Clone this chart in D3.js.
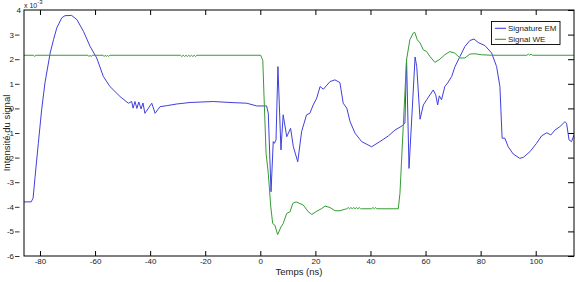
<!DOCTYPE html>
<html><head><meta charset="utf-8">
<script src="https://cdn.jsdelivr.net/npm/d3@7"></script>
<style>body{margin:0;background:#fff}svg{display:block}text{font-family:"Liberation Sans",Arial,Helvetica,sans-serif}</style>
</head><body><svg id="c" width="579" height="282"></svg>
<script>
// Data (values in units of 1e-3)
const xTicks = [-80,-60,-40,-20,0,20,40,60,80,100];
const yTicks = [-6,-5,-4,-3,-2,-1,0,1,2,3,4];
const seriesNames = ["Signature EM","Signal WE"];
const emTime = [-85.8,-83.2,-82.5,-81.8,-80.6,-79.4,-78.2,-76.3,-75.1,-73.9,-72.1,-70.9,-68.5,-66.6,-64.2,-61.8,-59.4,-57.0,-54.6,-50.9,-47.9,
 -46.7,-46.2,-45.5,-44.8,-44.1,-43.3,-42.6,-41.9,-39.4,-38.2,-36.4,-34.0,-30.3,-25.5,-17.1,-11.0,-4.9,-1.3,2.3,2.9,3.9,4.7,5.1,5.7,6.4,7.5,8.3,9.6,11.0,12.0,13.6,15.0,16.8,18.0,19.2,20.5,21.7,22.9,25.3,27.1,28.9,30.1,31.4,32.6,34.4,36.8,40.4,43.4,46.5,48.9,51.5,52.5,53.1,54.0,56.2,56.8,58.0,59.2,60.4,61.6,62.8,63.7,64.4,65.0,65.8,67.0,68.0,69.5,70.7,72.5,74.3,76.1,77.6,79.1,81.6,84.0,85.8,87.0,87.8,88.8,90.0,91.8,94.2,95.5,97.9,100.3,102.1,104.0,105.5,107.0,108.8,110.6,111.2,112.1,113.0,113.9];
const emValue = [-3.80,-3.80,-3.65,-2.80,-1.42,-0.06,1.03,2.25,2.79,3.27,3.68,3.77,3.78,3.61,3.13,2.52,2.05,1.30,0.89,0.48,0.21,
 0.28,0.01,0.28,0.00,0.26,-0.02,0.22,-0.20,0.21,-0.20,0.07,0.11,0.18,0.24,0.28,0.24,0.21,0.10,0.10,-0.20,-3.39,-1.35,-1.42,-1.28,1.70,-1.69,-0.26,-1.15,-0.81,-1.56,-2.17,-0.94,-0.26,-0.20,0.14,0.42,0.89,0.78,1.09,1.16,1.05,0.21,0.01,-0.54,-1.01,-1.35,-1.56,-1.35,-1.12,-0.88,-0.71,-0.60,2.00,-2.44,2.09,1.70,-0.44,0.14,0.35,0.55,0.75,0.55,0.14,0.51,0.35,0.89,1.03,1.30,1.70,2.11,2.52,2.76,2.82,2.68,2.55,2.25,1.70,0.89,-1.21,-1.21,-1.56,-1.85,-2.03,-1.99,-1.76,-1.42,-1.12,-0.99,-1.08,-0.88,-0.74,-0.54,-0.60,-1.28,-1.35,-1.08];
const weTime = [-85.8,-82.3,-81.9,-81.5,-62.6,-62.2,-61.8,-61.4,-61.0,-57.1,-56.7,-56.3,-55.9,-55.5,-55.1,-54.7,
 -29.0,-28.5,-28.0,-27.5,-27.0,-26.5,-26.0,-25.5,-25.0,-24.5,-24.0,-23.5,-23.0,
 0.15,0.9,1.35,2.1,2.9,3.8,4.5,5.3,6.3,7.5,8.3,9.6,10.8,11.8,13.0,15.6,17.4,18.7,20.5,22.3,23.5,25.3,27.1,28.9,30.7,
 31.4,31.9,32.4,32.9,33.4,33.9,34.4,34.9,35.4,35.9,36.4,36.8,40.4,40.9,41.4,41.9,42.3,
 50.1,50.7,51.3,51.9,53.1,54.3,55.5,56.1,57.0,58.0,59.2,60.4,61.6,63.4,65.2,67.0,68.8,70.6,72.5,74.3,76.1,77.9,80.4,84.0,96.8,97.3,97.8,98.3,98.8,113.9];
const weValue = [2.16,2.16,2.11,2.16,2.16,2.11,2.16,2.11,2.16,2.16,2.11,2.16,2.11,2.16,2.11,2.16,
 2.16,2.11,2.16,2.11,2.16,2.11,2.16,2.11,2.16,2.11,2.16,2.11,2.16,
 2.16,1.95,0.5,-1.83,-2.64,-4.0,-4.68,-4.75,-5.13,-4.82,-4.68,-4.27,-4.2,-3.86,-3.8,-3.93,-4.2,-4.31,-4.18,-4.07,-3.97,-4.03,-4.16,-4.16,-4.1,
 -4.08,-4.03,-4.08,-4.03,-4.08,-4.03,-4.08,-4.03,-4.08,-4.03,-4.08,-4.08,-4.08,-4.03,-4.08,-4.03,-4.08,
 -4.08,-3.46,-2.1,-0.74,1.98,2.79,3.06,3.09,2.79,2.66,2.38,2.31,2.11,1.87,2.0,2.18,2.31,2.25,2.05,2.05,2.21,2.22,2.18,2.16,2.16,2.21,2.16,2.21,2.16,2.16];
const colors = ["#4040dc","#349c34"];

const svg = d3.select("#c");
const L=24,R=574,T=10,B=256;
const x = d3.scaleLinear().domain([-85.8,113.9]).range([L,R]);
const y = d3.scaleLinear().domain([-6,4]).range([B,T]);

// axes (ticks inward)
const gx = svg.append("g").attr("transform",`translate(0,${B})`)
 .call(d3.axisBottom(x).tickValues(xTicks).tickSizeInner(-5).tickSizeOuter(0).tickPadding(2).tickFormat(d=>String(d)));
gx.select(".domain").remove();
gx.selectAll("text").attr("font-size",8).attr("font-family","Liberation Sans, Arial, sans-serif").attr("fill","#222");
gx.selectAll("line").attr("stroke","#000");
const gxt = svg.append("g").attr("transform",`translate(0,${T})`)
 .call(d3.axisTop(x).tickValues(xTicks).tickSizeInner(-5).tickSizeOuter(0).tickFormat(""));
gxt.select(".domain").remove();
const gyr = svg.append("g").attr("transform",`translate(${R},0)`)
 .call(d3.axisRight(y).tickValues(yTicks).tickSizeInner(-6).tickSizeOuter(0).tickFormat(""));
gyr.select(".domain").remove();
const gy = svg.append("g").attr("transform",`translate(${L},0)`)
 .call(d3.axisLeft(y).tickValues(yTicks).tickSizeInner(0).tickSizeOuter(0).tickPadding(10).tickFormat(d=>String(d)));
gy.select(".domain").remove();
gy.selectAll("text").attr("font-size",8).attr("font-family","Liberation Sans, Arial, sans-serif").attr("fill","#222");
gy.selectAll(".tick").filter(d=>d!==4).append("line").attr("x1",-9).attr("x2",-4.5).attr("stroke","#333");
gy.selectAll(".tick").filter(d=>d===4).select("text").attr("x",-3);

// lines
const line = d3.line().x(d=>x(d[0])).y(d=>y(d[1]));
const em = emTime.map((t,i)=>[t,emValue[i]]);
const we = weTime.map((t,i)=>[t,weValue[i]]);
svg.append("clipPath").attr("id","clip").append("rect").attr("x",L).attr("y",T).attr("width",R-L).attr("height",B-T);
const plot = svg.append("g").attr("clip-path","url(#clip)");
plot.append("path").datum(em).attr("d",line).attr("fill","none").attr("stroke",colors[0]).attr("stroke-width",1);
plot.append("path").datum(we).attr("d",line).attr("fill","none").attr("stroke",colors[1]).attr("stroke-width",1);

// box
svg.append("rect").attr("x",L).attr("y",T).attr("width",R-L).attr("height",B-T).attr("fill","none").attr("stroke","#000").attr("stroke-width",1);

// exponent
const ex = svg.append("text").attr("x",L).attr("y",8).attr("font-size",7).attr("fill","#222");
ex.append("tspan").text("x 10");
ex.append("tspan").attr("dy",-4).attr("font-size",6).text("-3");

// labels
svg.append("text").attr("x",(L+R)/2).attr("y",274.5).attr("text-anchor","middle").attr("font-size",9.5).attr("fill","#222").text("Temps (ns)");
svg.append("text").attr("transform",`translate(10,${(T+B)/2}) rotate(-90)`).attr("text-anchor","middle").attr("font-size",9.5).attr("fill","#222").text("Intensité du signal");

// legend
const lg = svg.append("g");
lg.append("rect").attr("x",491.5).attr("y",21.5).attr("width",68.5).attr("height",23).attr("fill","#fff").attr("stroke","#000").attr("stroke-width",0.9);
seriesNames.forEach((n,i)=>{
  const yy = 28.3 + i*11;
  lg.append("line").attr("x1",495).attr("x2",506).attr("y1",yy).attr("y2",yy).attr("stroke",colors[i]).attr("stroke-width",1.1);
  lg.append("text").attr("x",508).attr("y",yy+2.9).attr("font-size",8).attr("fill","#222").text(n);
});
</script></body></html>
